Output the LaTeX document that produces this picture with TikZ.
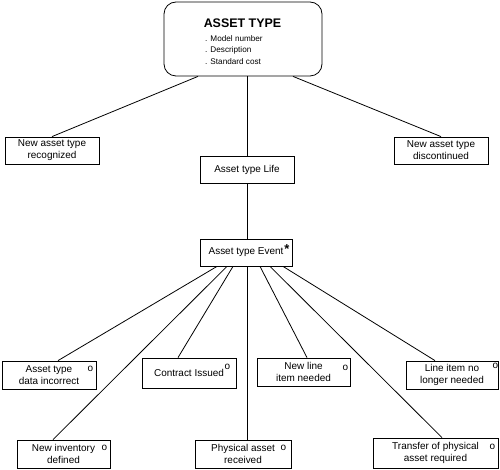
\documentclass[tikz,border=0pt]{standalone}
\usepackage{fontspec}
\setmainfont{Liberation Sans}
\usetikzlibrary{calc}
\begin{document}
\begin{tikzpicture}[x=1bp,y=-1bp,
  font=\fontsize{10}{12}\selectfont,
  box/.style={draw, line width=0.8pt, inner sep=0pt, align=center, minimum height=28bp},
  link/.style={line width=0.8pt},
  omark/.style={anchor=base, inner sep=0pt, font=\fontsize{10}{12}\selectfont}]
\useasboundingbox (0,0) rectangle (500,470);

% top entity
\node[draw, line width=0.8pt, rounded corners=12bp, minimum width=158bp, minimum height=74bp, inner sep=0pt] (top) at (243,39) {};
\node[font=\fontsize{12.5}{14}\selectfont\bfseries, inner sep=0pt] (title) at (242.5,23) {ASSET TYPE};
\node[anchor=west, align=left, inner sep=0pt, font=\fontsize{8.2}{11.5}\selectfont] (attrs) at (205,50) {. Model number\\. Description\\. Standard cost};

% second level
\node[box, minimum width=94bp, minimum height=27bp] (rec) at (52,150.5) {New asset type\\recognized};
\node[box, minimum width=94bp, minimum height=27bp] (life) at (247,169.5) {Asset type Life};
\node[box, minimum width=94bp, minimum height=27bp] (disc) at (441,150.5) {New asset type\\discontinued};
\node[box, minimum width=92bp, minimum height=27bp] (ev) at (246,252.5) {Asset type Event};
\node[anchor=base, inner sep=0pt, font=\fontsize{13}{14}\selectfont\bfseries] (star) at (287,253) {*};

% event kinds
\node[box, minimum width=94bp] (adi) at (49,375) {Asset type\\data incorrect};
\node[box, minimum width=94bp, minimum height=30bp] (ci) at (189,373) {Contract Issued};
\node[box, minimum width=93bp] (nli) at (303.5,372) {New line\\item needed};
\node[box, minimum width=92bp] (lnl) at (452,375) {Line item no\\longer needed};
\node[box, minimum width=93bp] (nid) at (63.5,454) {New inventory\\defined};
\node[box, minimum width=96bp] (par) at (243,454) {Physical asset\\received};
\node[box, minimum width=125bp, minimum height=30bp] (tpr) at (435.5,453) {Transfer of physical\\asset required};

% o marks
\node[omark] (o1) at ($(adi.north east)+(-6,10.5)$) {o};
\node[omark] (o2) at ($(ci.north east)+(-9,11.5)$) {o};
\node[omark] (o3) at ($(nli.north east)+(-5,12.5)$) {o};
\node[omark] (o4) at ($(lnl.north east)+(-3,7.5)$) {o};
\node[omark] (o5) at ($(nid.north east)+(-6,10.5)$) {o};
\node[omark] (o6) at ($(par.north east)+(-8,10.5)$) {o};
\node[omark] (o7) at ($(tpr.north east)+(-6,11.5)$) {o};

% connectors
\draw[link] ($(top.south)+(-45,0)$) -- (rec.north);
\draw[link] (life.north |- top.south) -- (life.north);
\draw[link] ($(top.south)+(50,0)$) -- (disc.north);
\draw[link] (life.south) -- (life.south |- ev.north);

\draw[link] ($(ev.south)+(-29,0)$) -- ($(adi.north)+(9,0)$);
\draw[link] ($(ev.south)+(-19,0)$) -- ($(nid.north)+(-10.5,0)$);
\draw[link] ($(ev.south)+(-13,0)$) -- ($(ci.north)+(-11,0)$);
\draw[link] ($(ev.south)+(1,0)$) -- ($(par.north)+(4,0)$);
\draw[link] ($(ev.south)+(14,0)$) -- ($(nli.north)+(3.5,0)$);
\draw[link] ($(ev.south)+(24,0)$) -- ($(tpr.north)+(6.5,0)$);
\draw[link] ($(ev.south)+(37,0)$) -- ($(lnl.north)+(-17,0)$);
\end{tikzpicture}
\end{document}
